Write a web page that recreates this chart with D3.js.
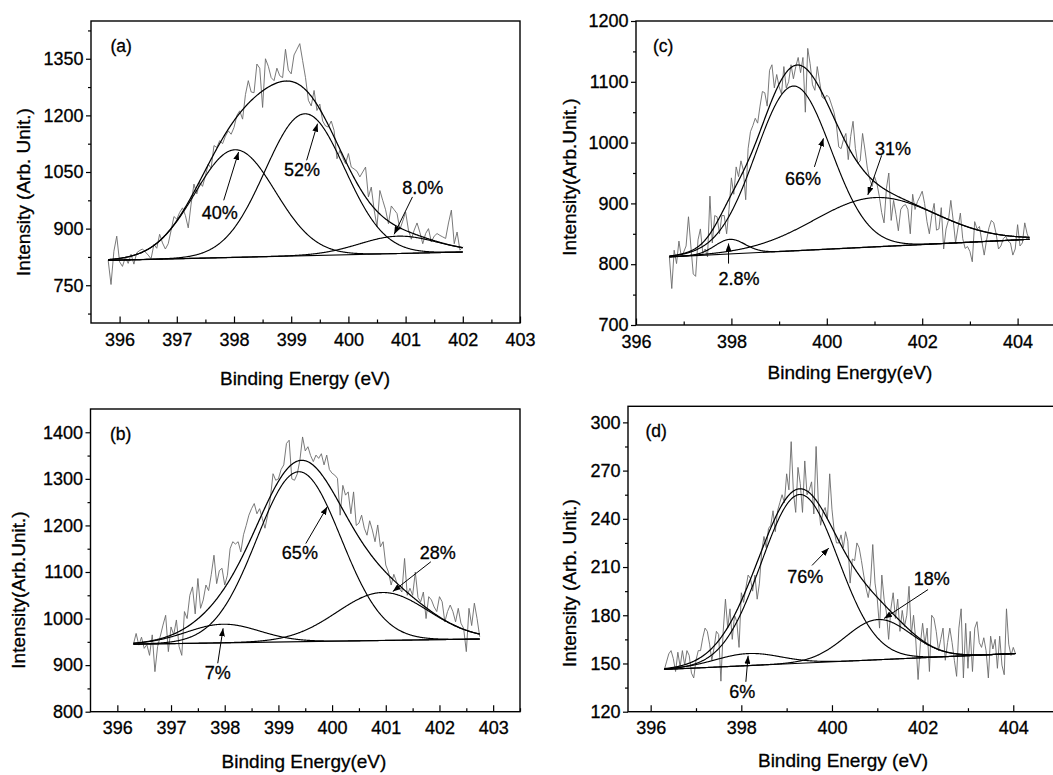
<!DOCTYPE html>
<html>
<head>
<meta charset="utf-8">
<script src="https://cdn.jsdelivr.net/npm/d3@7/dist/d3.min.js"></script>
<style>
  body { margin: 0; background: #fff; }
  svg { display: block; }
  text { font-family: "Liberation Sans", Arial, sans-serif; fill: #000; stroke: #000; stroke-width: 0.3px; }
</style>
</head>
<body>
<svg id="chart" width="1053" height="775"></svg>
<script>
// raw N 1s spectra, 0.05 eV step
const stepEV = 0.05;
const startA = 395.8, startB = 396.3, startC = 396.7, startD = 396.3;

const rawA = [816,752,840,880,812,800,824,808,832,806,836,842,846,838,830,820,858,848,885,862,
  846,860,895,932,925,943,955,935,902,965,1018,992,1022,1012,1040,1071,1060,1120,1115,1133,
  1125,1145,1159,1150,1168,1200,1212,1190,1255,1292,1262,1260,1336,1325,1221,1350,1330,1300,1292,1325,
  1305,1300,1375,1320,1310,1360,1375,1390,1345,1300,1240,1225,1266,1213,1230,1185,1172,1169,1185,1160,
  1085,1107,1088,1072,1099,1063,1058,1052,1037,1050,1063,984,1010,950,905,1001,975,950,913,960,
  950,940,898,920,944,896,872,896,915,890,860,887,900,865,880,887,882,878,874,915,
  949,860,891,843,852];

const rawB = [945,968,943,960,936,944,921,965,886,940,962,986,1007,929,982,965,997,940,921,1015,
  1000,1050,1068,1010,1086,1022,1040,1072,1060,1095,1136,1075,1103,1108,1072,1093,1150,1165,1160,1165,
  1143,1180,1200,1222,1236,1247,1225,1236,1215,1194,1222,1258,1311,1297,1300,1320,1330,1376,1383,1300,
  1297,1310,1340,1390,1360,1369,1350,1337,1351,1344,1354,1330,1351,1320,1312,1308,1301,1222,1286,1265,
  1272,1225,1272,1200,1205,1222,1194,1179,1210,1190,1165,1201,1154,1165,1115,1100,1072,1095,1079,1065,
  1057,1129,1050,1065,1050,1100,1045,1036,1057,1000,1047,1040,1025,1015,1047,1036,993,1015,1029,1015,
  993,1022,990,979,929,1022,985,1033,1000,961];

const rawC = [812,760,823,801,838,812,820,830,878,830,784,780,840,858,818,825,812,912,835,880,
  878,850,880,880,850,890,942,915,960,944,970,955,906,990,1018,1028,1040,1032,1060,1084,
  1082,1060,1119,1128,1090,1112,1092,1080,1125,1090,1100,1128,1105,1125,1140,1115,1140,1050,1155,1130,
  1095,1086,1125,1100,1075,1072,1078,1074,1062,1050,1030,993,990,1005,1015,972,1010,1035,990,966,
  970,1015,988,958,940,928,944,933,912,885,868,925,950,872,905,882,855,890,896,898,
  890,850,915,890,903,911,920,900,870,850,880,900,856,858,893,825,858,872,905,872,
  835,860,884,842,826,829,821,804,870,858,862,838,815,840,860,872,868,850,825,830,
  842,846,838,835,815,825,865,830,835,868,850,840];

const rawD = [146,151,156,158,153,145,157,148,158,149,158,155,144,141,152,158,158,166,172,170,
  162,152,160,170,168,139,170,190,172,184,165,180,176,160,194,188,197,205,203,195,
  205,190,200,220,229,222,234,236,245,232,245,250,255,250,268,258,288,256,244,272,
  262,244,276,255,258,263,243,285,250,236,244,247,240,268,246,232,225,225,230,222,
  232,226,200,215,214,225,222,214,205,197,191,200,224,200,190,172,205,190,182,165,
  184,194,178,190,170,183,173,180,198,168,180,164,140,162,175,162,172,145,180,178,
  170,158,165,172,152,163,172,163,152,142,172,184,141,175,147,170,145,172,176,163,
  160,166,158,141,167,159,165,147,167,149,143,184,162,155,160,156];

// fitted components: [centre eV, height above background, FWHM eV]
const peaksA = [[398.02, 285, 1.65], [399.24, 376, 1.64], [400.87, 46, 1.6]];
const peaksB = [[397.97, 40, 1.6], [399.38, 365, 1.85], [400.94, 103, 2.0]];
const peaksC = [[397.97, 24, 0.75], [399.30, 271, 1.85], [401.01, 81, 3.0]];
const peaksD = [[398.15, 7.5, 1.7], [399.29, 105, 2.0], [401.02, 25, 1.7]];

// linear background, end points [eV, intensity]
const baseA = [[395.8, 816], [402.0, 838]];
const baseB = [[396.3, 945], [402.75, 956]];
const baseC = [[396.7, 812], [404.25, 841]];
const baseD = [[396.3, 146.3], [404.05, 156.2]];

// area labels: [text, label eV, label I, arrow tail eV, tail I, arrow head eV, head I]
const notesA = [["40%", 397.75, 925, 397.82, 975, 398.08, 1103],
                ["52%", 399.19, 1039, 399.27, 1081, 399.46, 1178],
                ["8.0%", 401.30, 991, 401.12, 984, 400.80, 885]];
const notesB = [["7%", 397.87, 870, 397.87, 904, 397.97, 979],
                ["65%", 399.40, 1128, 399.51, 1161, 399.91, 1240],
                ["28%", 401.97, 1128, 401.84, 1122, 401.13, 1058]];
const notesC = [["66%", 399.50, 931, 399.74, 960, 399.93, 1007],
                ["2.8%", 398.16, 766, 397.94, 801, 397.94, 834],
                ["31%", 401.39, 980, 401.15, 979, 400.86, 914]];
const notesD = [["76%", 399.41, 199.9, 399.56, 211, 399.93, 221.8],
                ["6%", 398.02, 128.8, 398.10, 138.6, 398.15, 154.8],
                ["18%", 402.20, 199, 402.12, 196, 401.15, 178]];

// tick values
const xTicksA = [396, 397, 398, 399, 400, 401, 402, 403];
const xMinorA = [396.5, 397.5, 398.5, 399.5, 400.5, 401.5, 402.5];
const yTicksA = [750, 900, 1050, 1200, 1350];
const yMinorA = [675, 825, 975, 1125, 1275, 1425];
const xTicksB = [396, 397, 398, 399, 400, 401, 402, 403];
const xMinorB = [396.5, 397.5, 398.5, 399.5, 400.5, 401.5, 402.5, 403.5];
const yTicksB = [800, 900, 1000, 1100, 1200, 1300, 1400];
const yMinorB = [850, 950, 1050, 1150, 1250, 1350];
const xTicksC = [396, 398, 400, 402, 404];
const xMinorC = [397, 399, 401, 403];
const yTicksC = [700, 800, 900, 1000, 1100, 1200];
const yMinorC = [750, 850, 950, 1050, 1150];
const xTicksD = [396, 398, 400, 402, 404];
const xMinorD = [397, 399, 401, 403];
const yTicksD = [120, 150, 180, 210, 240, 270, 300];
const yMinorD = [135, 165, 195, 225, 255, 285];

const svg = d3.select("#chart");

svg.append("defs").append("marker")
    .attr("id", "head")
    .attr("markerUnits", "userSpaceOnUse")
    .attr("markerWidth", 9).attr("markerHeight", 6)
    .attr("refX", 8).attr("refY", 3)
    .attr("orient", "auto")
  .append("path")
    .attr("d", "M0,0 L8,3 L0,6 Z")
    .attr("fill", "#000");

function gauss(e, pk) {
  return pk[1] * Math.exp(-4 * Math.LN2 * (e - pk[0]) * (e - pk[0]) / (pk[2] * pk[2]));
}

function drawPanel(p) {
  const x = d3.scaleLinear().domain(p.xDomain).range([p.left, p.right]);
  const y = d3.scaleLinear().domain(p.yDomain).range([p.bottom, p.top]);
  const g = svg.append("g");

  const b0 = p.base[0], b1 = p.base[1];
  const bg = e => b0[1] + (b1[1] - b0[1]) * (e - b0[0]) / (b1[0] - b0[0]);
  const grid = d3.range(b0[0], b1[0] + 1e-9, 0.01);
  const line = d3.line().x(d => x(d[0])).y(d => y(d[1]));

  // measured spectrum
  g.append("path")
    .datum(p.raw.map((v, i) => [p.start + i * stepEV, v]))
    .attr("d", line)
    .attr("fill", "none")
    .attr("stroke", "#6a6a6a")
    .attr("stroke-width", 0.9);

  // background
  g.append("path")
    .datum([[b0[0], bg(b0[0])], [b1[0], bg(b1[0])]])
    .attr("d", line)
    .attr("fill", "none")
    .attr("stroke", "#000")
    .attr("stroke-width", 1.1);

  // components
  p.peaks.forEach(pk => {
    g.append("path")
      .datum(grid.map(e => [e, bg(e) + gauss(e, pk)]))
      .attr("d", line)
      .attr("fill", "none")
      .attr("stroke", "#000")
      .attr("stroke-width", 1.15);
  });

  // envelope
  g.append("path")
    .datum(grid.map(e => [e, bg(e) + d3.sum(p.peaks, pk => gauss(e, pk))]))
    .attr("d", line)
    .attr("fill", "none")
    .attr("stroke", "#000")
    .attr("stroke-width", 1.25);

  // percentage labels and arrows
  p.notes.forEach(n => {
    g.append("text")
      .attr("x", x(n[1])).attr("y", y(n[2]))
      .attr("text-anchor", "middle")
      .attr("font-size", 18)
      .text(n[0]);
    g.append("line")
      .attr("x1", x(n[3])).attr("y1", y(n[4]))
      .attr("x2", x(n[5])).attr("y2", y(n[6]))
      .attr("stroke", "#000")
      .attr("stroke-width", 1)
      .attr("marker-end", "url(#head)");
  });

  // frame
  g.append("rect")
    .attr("x", p.left).attr("y", p.top)
    .attr("width", p.right - p.left).attr("height", p.bottom - p.top)
    .attr("fill", "none")
    .attr("stroke", "#000")
    .attr("stroke-width", 1.4);

  // x axis, ticks pointing in
  const xa = g.append("g").attr("transform", `translate(0,${p.bottom})`)
    .call(d3.axisBottom(x).tickValues(p.xTicks).tickFormat(d3.format("d"))
      .tickSize(-6.5).tickPadding(10));
  g.append("g").attr("transform", `translate(0,${p.bottom})`)
    .call(d3.axisBottom(x).tickValues(p.xMinor).tickFormat("").tickSize(-3.5));

  // y axis, ticks pointing out
  const ya = g.append("g").attr("transform", `translate(${p.left},0)`)
    .call(d3.axisLeft(y).tickValues(p.yTicks).tickFormat(d3.format("d"))
      .tickSize(5).tickPadding(2.5));
  g.append("g").attr("transform", `translate(${p.left},0)`)
    .call(d3.axisLeft(y).tickValues(p.yMinor).tickFormat("").tickSize(3));

  g.selectAll(".domain").remove();
  g.selectAll(".tick line").attr("stroke", "#000").attr("stroke-width", 1.2);
  [xa, ya].forEach(a => a.attr("font-size", 18).attr("font-family", null));
  g.selectAll(".tick text").attr("fill", "#000");

  // axis titles
  g.append("text")
    .attr("x", p.xTitle[0]).attr("y", p.xTitle[1])
    .attr("text-anchor", "middle")
    .attr("font-size", 19)
    .text(p.xLabel);
  g.append("text")
    .attr("transform", `translate(${p.yTitle[0]},${p.yTitle[1]}) rotate(-90)`)
    .attr("text-anchor", "middle")
    .attr("font-size", 19)
    .text(p.yLabel);

  // panel letter
  g.append("text")
    .attr("x", p.tag[1]).attr("y", p.tag[2])
    .attr("font-size", 17.5)
    .text(p.tag[0]);
}

drawPanel({
  raw: rawA, start: startA, peaks: peaksA, base: baseA, notes: notesA,
  xTicks: xTicksA, xMinor: xMinorA, yTicks: yTicksA, yMinor: yMinorA,
  xDomain: [395.5, 403], yDomain: [650, 1450],
  left: 91, right: 520, top: 21, bottom: 323,
  xLabel: "Binding Energy (eV)", yLabel: "Intensity (Arb. Unit.)",
  xTitle: [305, 385], yTitle: [30, 192], tag: ["(a)", 110.5, 52]
});

drawPanel({
  raw: rawB, start: startB, peaks: peaksB, base: baseB, notes: notesB,
  xTicks: xTicksB, xMinor: xMinorB, yTicks: yTicksB, yMinor: yMinorB,
  xDomain: [395.5, 403.5], yDomain: [800, 1450],
  left: 90.5, right: 520, top: 409, bottom: 711.7,
  xLabel: "Binding Energy(eV)", yLabel: "Intensity(Arb.Unit.)",
  xTitle: [304, 768], yTitle: [25, 590], tag: ["(b)", 110, 440]
});

drawPanel({
  raw: rawC, start: startC, peaks: peaksC, base: baseC, notes: notesC,
  xTicks: xTicksC, xMinor: xMinorC, yTicks: yTicksC, yMinor: yMinorC,
  xDomain: [396, 405], yDomain: [700, 1200],
  left: 636, right: 1065.3, top: 21, bottom: 325,
  xLabel: "Binding Energy(eV)", yLabel: "Intensity(Arb.Unit.)",
  xTitle: [850, 379], yTitle: [576, 177], tag: ["(c)", 653, 52]
});

drawPanel({
  raw: rawD, start: startD, peaks: peaksD, base: baseD, notes: notesD,
  xTicks: xTicksD, xMinor: xMinorD, yTicks: yTicksD, yMinor: yMinorD,
  xDomain: [395.5, 405], yDomain: [120, 310],
  left: 628, right: 1058.6, top: 406.3, bottom: 711.7,
  xLabel: "Binding Energy (eV)", yLabel: "Intensity (Arb. Unit.)",
  xTitle: [843, 767], yTitle: [576, 583], tag: ["(d)", 645.5, 437]
});
</script>
</body>
</html>
